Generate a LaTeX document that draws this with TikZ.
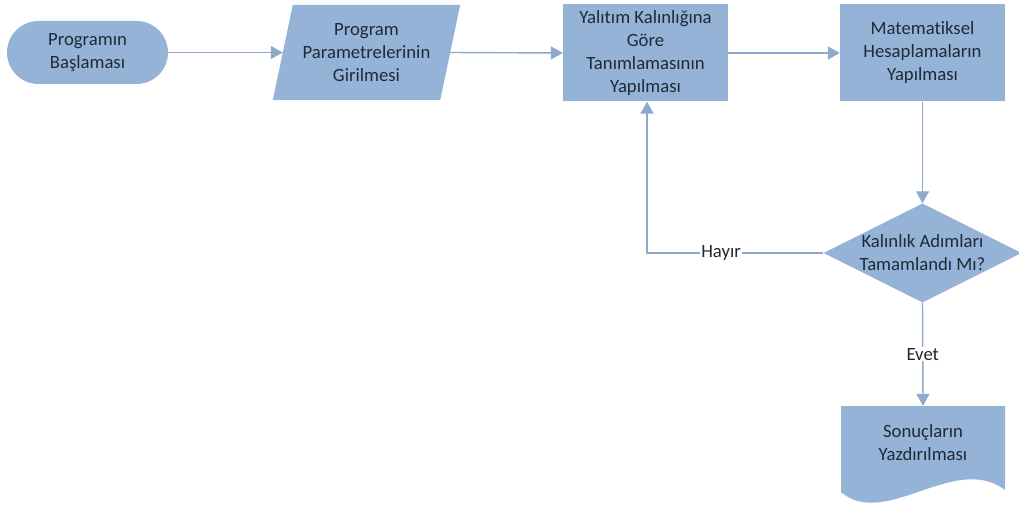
\documentclass[tikz,border=0pt]{standalone}
\usepackage{fontspec}
\setmainfont[Ligatures=NoCommon]{Carlito}
\usetikzlibrary{shapes.geometric,arrows.meta,calc}
\definecolor{boxfill}{HTML}{95B3D7}
\definecolor{linecol}{HTML}{8EA9CB}
\definecolor{txtcol}{HTML}{1F2A38}
\begin{document}
\begin{tikzpicture}[x=1pt,y=-1pt,
  every node/.style={font=\fontsize{18.7}{23}\selectfont, text=txtcol, align=center},
  boxstyle/.style={fill=boxfill, draw=none, inner sep=0pt},
  flow/.style={draw=linecol, line width=1.4pt, -{Triangle[length=12pt,width=13pt]}},
  lbl/.style={fill=white, inner sep=1pt, text=black!85}
]
\useasboundingbox (0,0) rectangle (1019,508);
% start terminal
\node[boxstyle, minimum width=161pt, minimum height=63pt, rounded corners=31.5pt] (start) at (87.5,52.5) {Programın\\Başlaması};
% parallelogram (input)
\node[inner sep=0pt, minimum width=167pt, minimum height=95pt] (par) at (366.5,52.5) {};
\fill[boxfill] ($(par.north west)+(10,0)$) -- ($(par.north east)+(10,0)$) -- ($(par.south east)+(-10,0)$) -- ($(par.south west)+(-10,0)$) -- cycle;
\node (partext) at (par.center) {Program\\Parametrelerinin\\Girilmesi};
% process boxes
\node[boxstyle, minimum width=165pt, minimum height=97pt] (def) at (645.5,53) {Yalıtım Kalınlığına\\Göre\\Tanımlamasının\\Yapılması};
\node[boxstyle, minimum width=165pt, minimum height=97pt] (calc) at (922.5,53) {Matematiksel\\Hesaplamaların\\Yapılması};
% decision
\node[boxstyle, shape=diamond, aspect=2, minimum width=191pt, minimum height=95pt] (dec) at (922.5,253) {Kalınlık Adımları\\Tamamlandı Mı?};
% document
\node[inner sep=0pt, minimum width=164pt, minimum height=74pt] (doc) at (923,443) {};
\fill[boxfill] (841,406) -- (1005,406) -- (1005,490) .. controls (955,452) and (885,530) .. (841,492) -- cycle;
\node (doctext) at (doc.center) {Sonuçların\\Yazdırılması};
% connectors
\draw[flow] (start.east) -- (par.west);
\draw[flow] (par.east) -- (def.west);
\draw[flow] (def.east) -- (calc.west);
\draw[flow] (calc.south) -- (dec.north);
\draw[flow] (dec.west) -| node[lbl, pos=0.29] (hayir) {Hayır} ($(def.south)+(1.5,0)$);
\draw[flow] (dec.south) -- node[lbl, pos=0.5] (evet) {Evet} (doc.north);
\end{tikzpicture}
\end{document}
